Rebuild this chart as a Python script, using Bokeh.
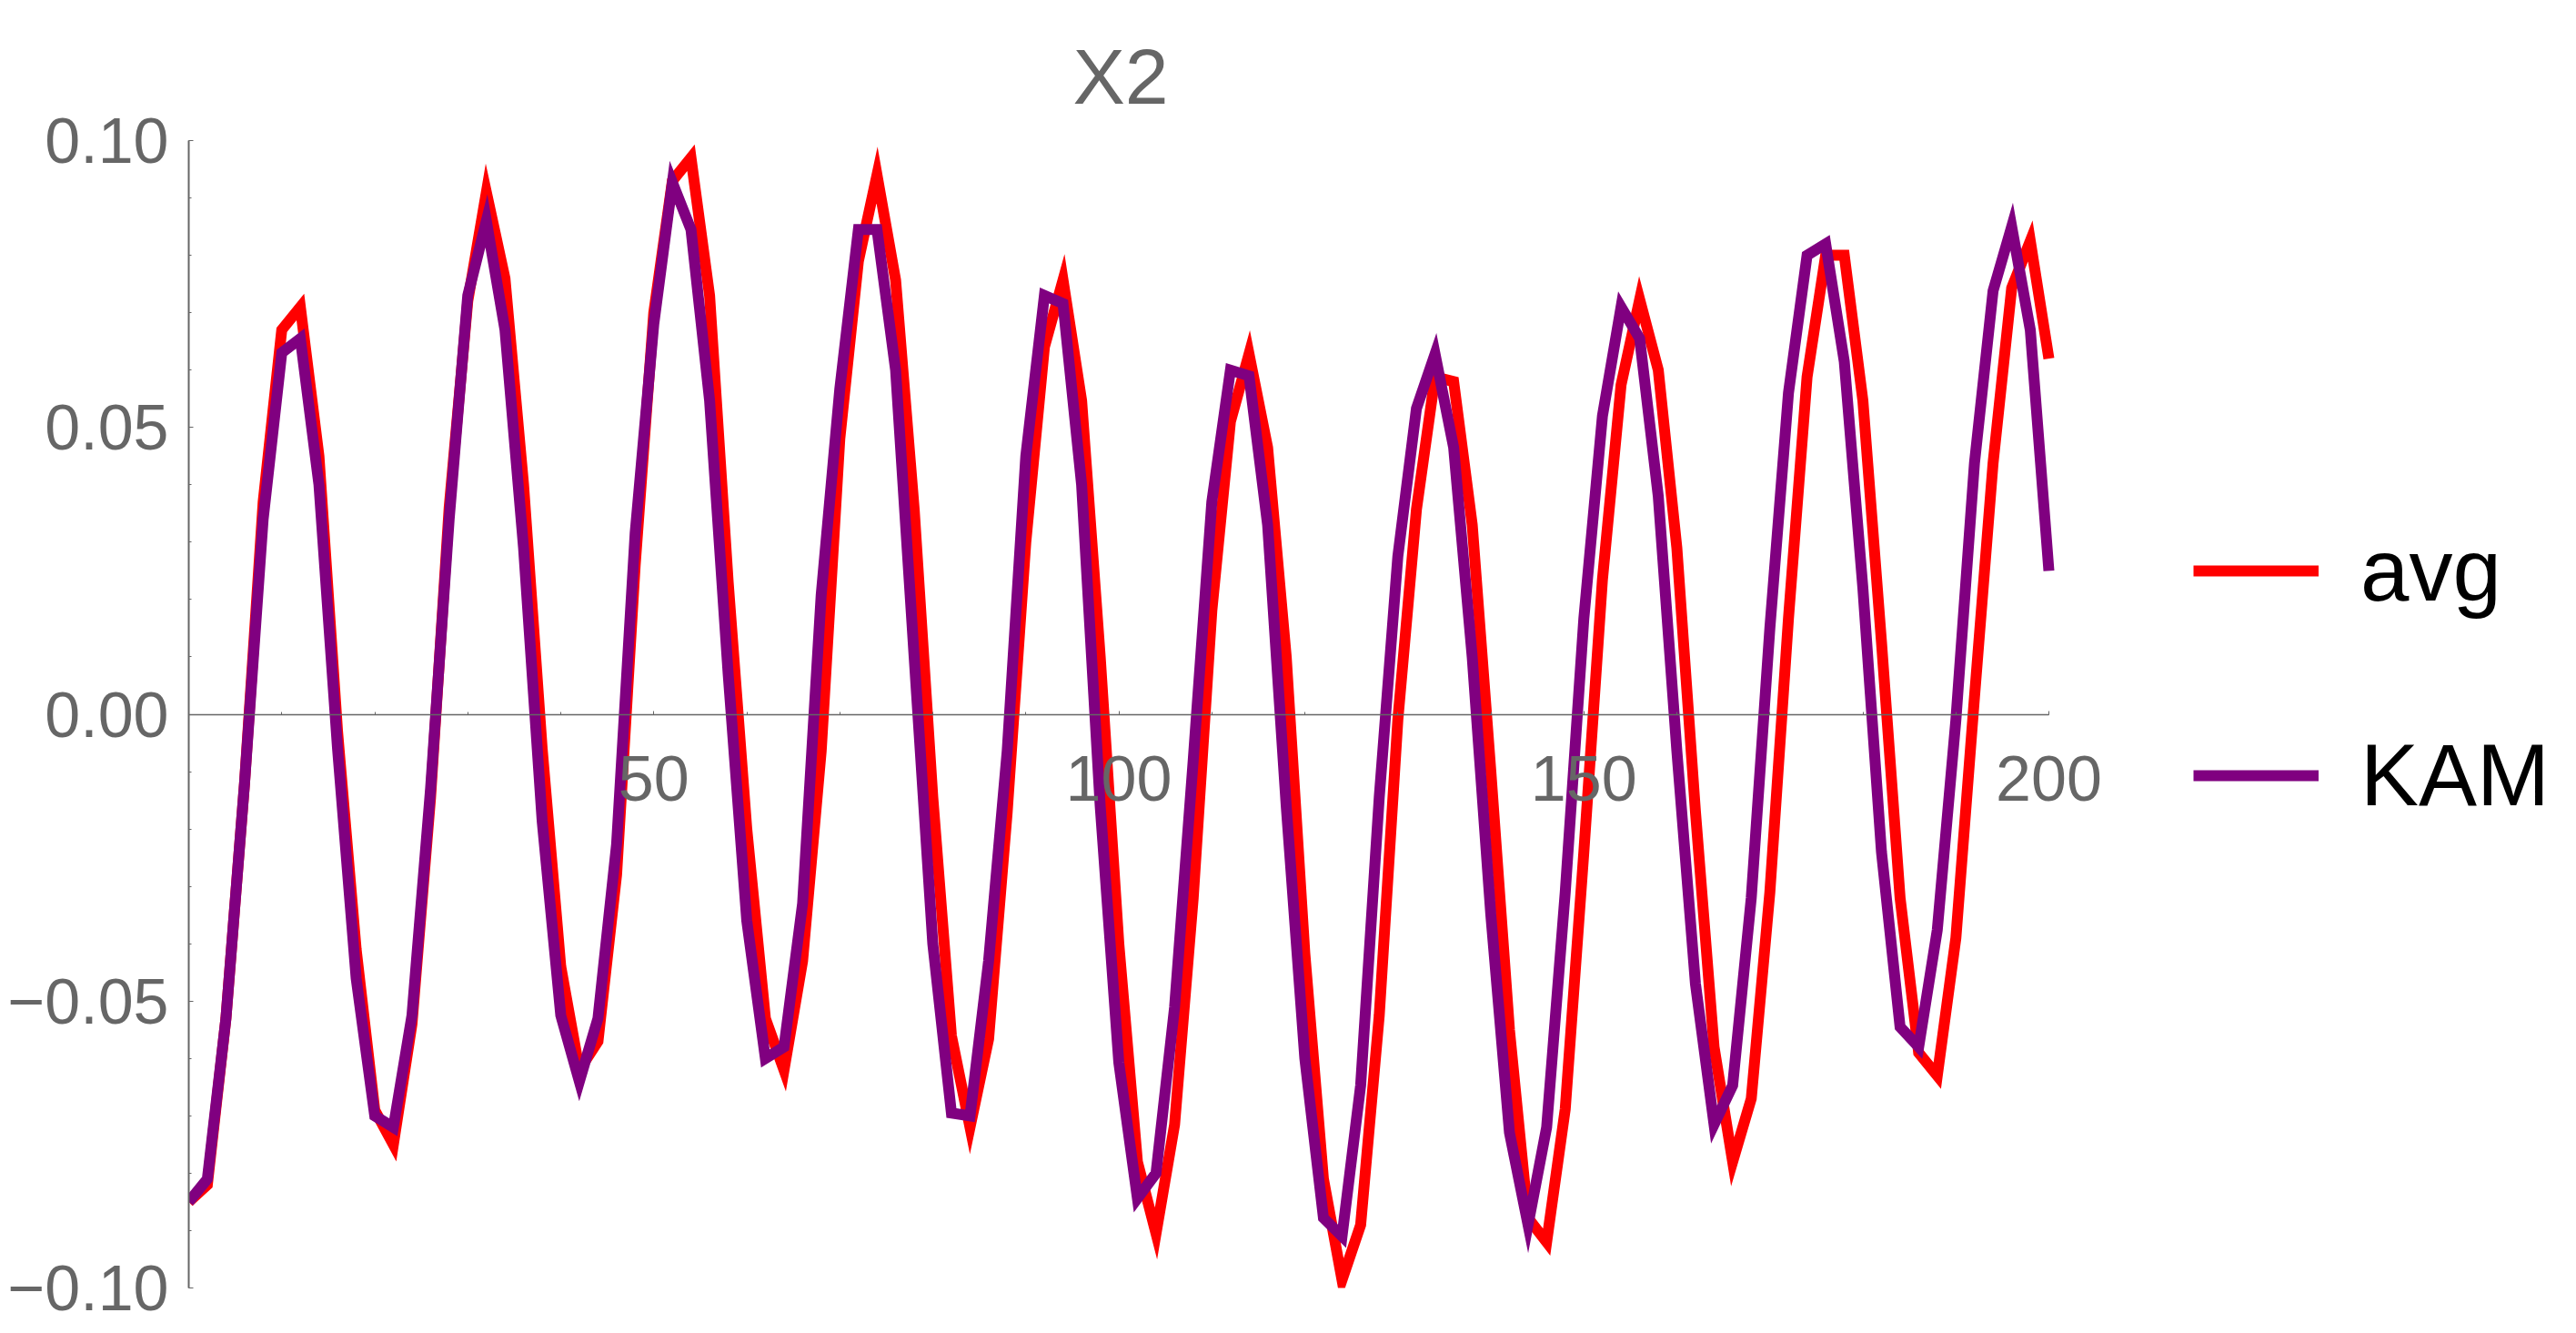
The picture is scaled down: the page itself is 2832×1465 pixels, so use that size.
from bokeh.plotting import figure
from bokeh.models import (Legend, LegendItem, FixedTicker, CustomJSTickFormatter,
                          Range1d, Label)
from bokeh.embed import file_html
from bokeh.resources import INLINE

# ---- data ----
t = list(range(0, 202, 2))

avg = [-0.085, -0.082, -0.053, -0.012, 0.037, 0.067, 0.071, 0.045, -0.003, -0.041,
       -0.069, -0.075, -0.054, -0.0145, 0.036, 0.072, 0.091, 0.076, 0.040, -0.006,
       -0.044, -0.062, -0.057, -0.028, 0.026, 0.070, 0.093, 0.097, 0.073, 0.023,
       -0.020, -0.053, -0.062, -0.043, -0.0064, 0.048, 0.079, 0.094, 0.0757, 0.0357,
       -0.0145, -0.056, -0.072, -0.0566, -0.017, 0.030, 0.064, 0.0757, 0.0547, 0.010,
       -0.040, -0.078, -0.0905, -0.0715, -0.032, 0.018, 0.051, 0.0628, 0.0465, 0.010,
       -0.0417, -0.081, -0.0986, -0.089, -0.0525, -0.001, 0.0357, 0.0588, 0.058, 0.033,
       -0.010, -0.055, -0.0878, -0.092, -0.0688, -0.024, 0.0235, 0.0574, 0.0723, 0.060,
       0.029, -0.017, -0.058, -0.078, -0.067, -0.031, 0.0167, 0.0588, 0.080, 0.080,
       0.0547, 0.0126, -0.032, -0.059, -0.063, -0.039, 0.003, 0.0438, 0.0743, 0.0825,
       0.062]

kam = [-0.085, -0.081, -0.053, -0.012, 0.034, 0.063, 0.0655, 0.040, -0.006, -0.046,
       -0.070, -0.072, -0.0525, -0.013, 0.034, 0.073, 0.086, 0.067, 0.029, -0.0186,
       -0.0525, -0.064, -0.053, -0.0227, 0.0316, 0.068, 0.0927, 0.0845, 0.0547, 0.007,
       -0.036, -0.060, -0.058, -0.033, 0.0208, 0.0567, 0.0845, 0.0845, 0.060, 0.0099,
       -0.040, -0.0695, -0.070, -0.043, -0.0064, 0.045, 0.073, 0.0716, 0.040, -0.016,
       -0.0607, -0.0844, -0.080, -0.051, -0.008, 0.037, 0.060, 0.059, 0.033, -0.016,
       -0.060, -0.0878, -0.091, -0.0647, -0.0145, 0.0275, 0.0533, 0.0628, 0.0465, 0.0099,
       -0.035, -0.0729, -0.089, -0.072, -0.031, 0.0167, 0.052, 0.071, 0.0655, 0.038,
       -0.0064, -0.047, -0.0715, -0.0647, -0.032, 0.015, 0.056, 0.080, 0.082, 0.0615,
       0.022, -0.024, -0.0545, -0.058, -0.0376, -0.001, 0.0438, 0.0738, 0.085, 0.067,
       0.025]

series_names = ["avg", "KAM"]
series_colors = ["#ff0000", "#800080"]
x_major = [50, 100, 150, 200]
x_minor = list(range(10, 210, 10))
y_major = [-0.1, -0.05, 0.0, 0.05, 0.1]
title_text = "X2"

GRAY = "#666666"
FONT = "Liberation Sans"

# Plot area: data x 0..200 and y -0.1..0.1. The frame is extended to the right
# (room for the "200" label) and up (room for the title), axes bounded to the data.
PX_PER_X = 2045 / 200.0
PX_PER_Y = 1261 / 0.2
FRAME_W, FRAME_H = 2198, 1415
X0, Y0 = 0.0, -0.1
X1 = X0 + FRAME_W / PX_PER_X
Y1 = Y0 + FRAME_H / PX_PER_Y

p = figure(frame_width=FRAME_W, frame_height=FRAME_H,
           min_border_left=207, min_border_right=427,
           min_border_top=0, min_border_bottom=50,
           x_range=Range1d(X0, X1), y_range=Range1d(Y0, Y1),
           output_backend="svg", toolbar_location=None,
           background_fill_color="white", border_fill_color="white")
p.outline_line_color = None
p.grid.visible = False
p.title.visible = False
p.title.standoff = 0

r_avg = p.line(t, avg, line_color=series_colors[0], line_width=12, line_join="miter")
r_kam = p.line(t, kam, line_color=series_colors[1], line_width=12, line_join="miter")

# title, inside the (extended) frame above y = 0.10
title = Label(text=title_text,
              x=X0 + 972 / PX_PER_X,
              y=0.1 + 71 / PX_PER_Y,
              text_align="left", text_baseline="alphabetic",
              text_font=FONT, text_font_size="86px", text_color=GRAY)
p.add_layout(title)

# x axis through y = 0
xa = p.xaxis[0]
xa.fixed_location = 0
xa.bounds = (0, 200)
xa.ticker = FixedTicker(ticks=x_major, minor_ticks=x_minor)
xa.axis_line_color = GRAY
xa.axis_line_width = 1.5
xa.major_tick_line_color = GRAY
xa.minor_tick_line_color = GRAY
xa.major_tick_in = 4
xa.major_tick_out = 0
xa.minor_tick_in = 3
xa.minor_tick_out = 0
xa.major_label_text_font = FONT
xa.major_label_text_font_size = "70px"
xa.major_label_text_color = GRAY
xa.major_label_standoff = 46

ya = p.yaxis[0]
ya.bounds = (-0.1, 0.1)
ya.ticker = FixedTicker(ticks=y_major,
                        minor_ticks=[round(-0.1 + 0.01 * i, 2) for i in range(21)])
ya.formatter = CustomJSTickFormatter(
    code="return (tick < -1e-9 ? '\u2212' : '') + Math.abs(tick).toFixed(2);")
ya.axis_line_color = GRAY
ya.axis_line_width = 2
ya.major_tick_line_color = GRAY
ya.minor_tick_line_color = GRAY
ya.major_tick_in = 5
ya.major_tick_out = 0
ya.minor_tick_in = 3
ya.minor_tick_out = 0
ya.major_label_text_font = FONT
ya.major_label_text_font_size = "70px"
ya.major_label_text_color = GRAY
ya.major_label_standoff = 22

legend = Legend(items=[LegendItem(label=series_names[0], renderers=[r_avg]),
                       LegendItem(label=series_names[1], renderers=[r_kam])],
                location=(6, 508), orientation="vertical")
legend.glyph_width = 138
legend.glyph_height = 110
legend.label_height = 110
legend.label_standoff = 46
legend.spacing = 115
legend.padding = 0
legend.margin = 0
legend.border_line_color = None
legend.background_fill_alpha = 0
legend.label_text_font = FONT
legend.label_text_font_size = "96px"
legend.label_text_color = "black"
p.add_layout(legend, "right")

open("out.html", "w").write(file_html(p, INLINE))
